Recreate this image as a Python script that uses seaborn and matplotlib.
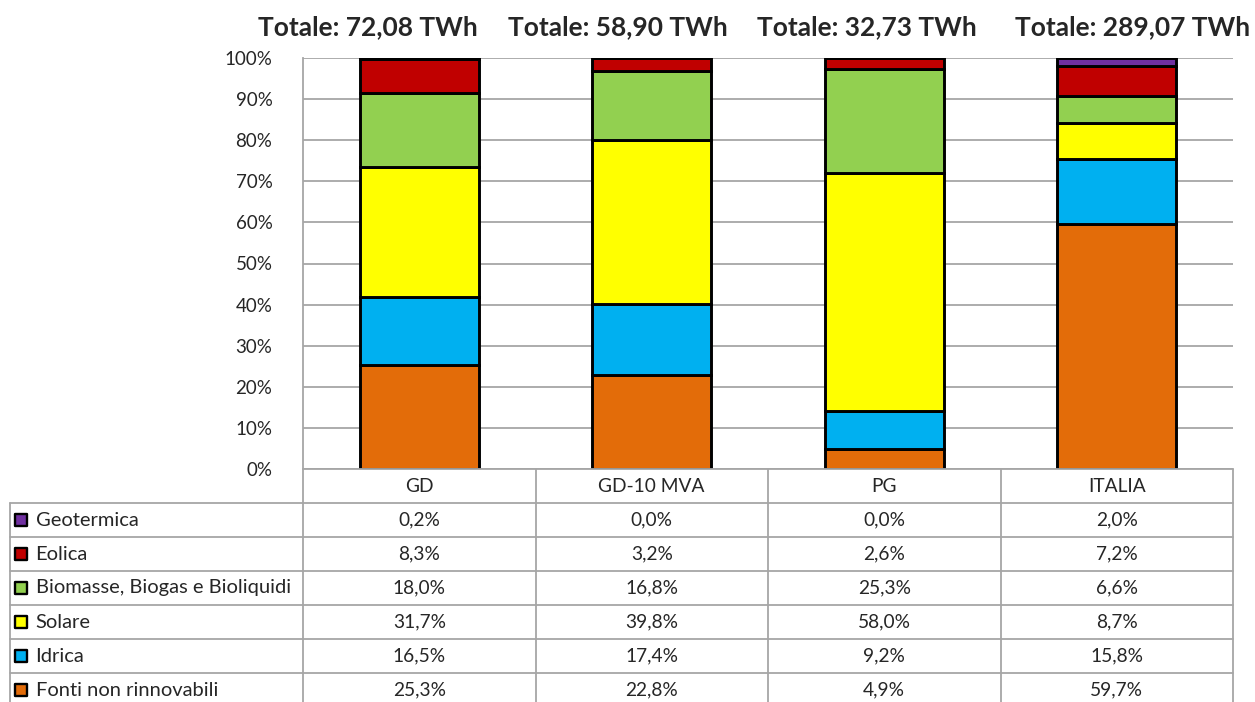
import numpy as np
import matplotlib
matplotlib.use("Agg")
import matplotlib.pyplot as plt
import matplotlib.transforms as mtransforms
import seaborn as sns

sns.set_style("white")
plt.rcParams['font.family'] = ['Lato', 'DejaVu Sans']

# data (stack order: bottom -> top)
categories = ["GD", "GD-10 MVA", "PG", "ITALIA"]
totals = ["Totale: 72,08 TWh", "Totale: 58,90 TWh", "Totale: 32,73 TWh", "Totale: 289,07 TWh"]
sources = ["Fonti non rinnovabili", "Idrica", "Solare",
           "Biomasse, Biogas e Bioliquidi", "Eolica", "Geotermica"]
fonti = [25.3, 22.8, 4.9, 59.7]
idrica = [16.5, 17.4, 9.2, 15.8]
solare = [31.7, 39.8, 58.0, 8.7]
biomasse = [18.0, 16.8, 25.3, 6.6]
eolica = [8.3, 3.2, 2.6, 7.2]
geotermica = [0.2, 0.0, 0.0, 2.0]
colors = ["#E36C09", "#00B0F0", "#FFFF00", "#92D050", "#C00000", "#7030A0"]

series = [fonti, idrica, solare, biomasse, eolica, geotermica]

W, H = 1255, 702
fig = plt.figure(figsize=(W / 100, H / 100), dpi=100)
# plot area in pixels
left, right, top, bottom = 303, 1233, 58, 469
ax = fig.add_axes([left / W, (H - bottom) / H, (right - left) / W, (bottom - top) / H])

grid_col = "#a6a6a6"
cum = np.zeros(len(categories))
for vals, col in zip(series, colors):
    sns.barplot(x=categories, y=vals, bottom=cum, color=col, saturation=1,
                width=0.51, edgecolor="black", linewidth=2.1, ax=ax, zorder=3)
    cum = cum + np.array(vals)

ax.set_xlim(-0.5, 3.5)
ax.set_ylim(0, 100)
ax.set_yticks(np.arange(0, 101, 10))
ax.set_yticklabels([f"{v}%" for v in range(0, 101, 10)], fontsize=13.5)
ax.set_xticks([])
ax.set_xlabel("")
ax.set_ylabel("")
ax.tick_params(axis="y", length=0, pad=22)
ax.yaxis.grid(True, color=grid_col, linewidth=1.3)
ax.set_axisbelow(True)
for s in ["top", "right", "bottom"]:
    ax.spines[s].set_visible(False)
ax.spines["left"].set_color(grid_col)
ax.spines["left"].set_linewidth(1.3)

# totals above bars
trans = mtransforms.blended_transform_factory(ax.transData, ax.transAxes)
title_x = [-0.22, 0.855, 1.926, 3.066]
for tx, t in zip(title_x, totals):
    ax.text(tx, 1.075, t, transform=trans, ha="center", va="center",
            fontsize=19, fontweight="bold", clip_on=False)

# data table below the chart
tleft = 10
unit = (right - left) / 4
xmin = -0.5 - (left - tleft) / unit
row_h = 34
tab = fig.add_axes([tleft / W, 0, (right - tleft) / W, (H - bottom) / H])
tab.set_xlim(xmin, 3.5)
nrows = (H - bottom) / row_h
tab.set_ylim(nrows, 0)
tab.axis("off")

lw = 1.3
tab.plot([-0.5, 3.5], [0, 0], color=grid_col, lw=lw, clip_on=False)
for r in range(1, 7):
    tab.plot([xmin, 3.5], [r, r], color=grid_col, lw=lw, clip_on=False)
tab.plot([xmin, xmin], [1, nrows], color=grid_col, lw=lw, clip_on=False)
for k in range(5):
    tab.plot([k - 0.5, k - 0.5], [0, nrows], color=grid_col, lw=lw, clip_on=False)

for i, c in enumerate(categories):
    tab.text(i, 0.5, c, ha="center", va="center", fontsize=13.8)

rows = list(zip(sources, series, colors))[::-1]
for r, (name, vals, col) in enumerate(rows, start=1):
    tab.scatter([xmin + 0.047], [r + 0.5], marker="s", s=85, color=col,
                edgecolor="black", linewidth=1.7, clip_on=False, zorder=3)
    tab.text(xmin + 0.11, r + 0.5, name, ha="left", va="center", fontsize=14.5)
    for i, v in enumerate(vals):
        tab.text(i, r + 0.5, f"{v:.1f}%".replace(".", ","), ha="center",
                 va="center", fontsize=13.8)

fig.savefig("out.png", dpi=100)
